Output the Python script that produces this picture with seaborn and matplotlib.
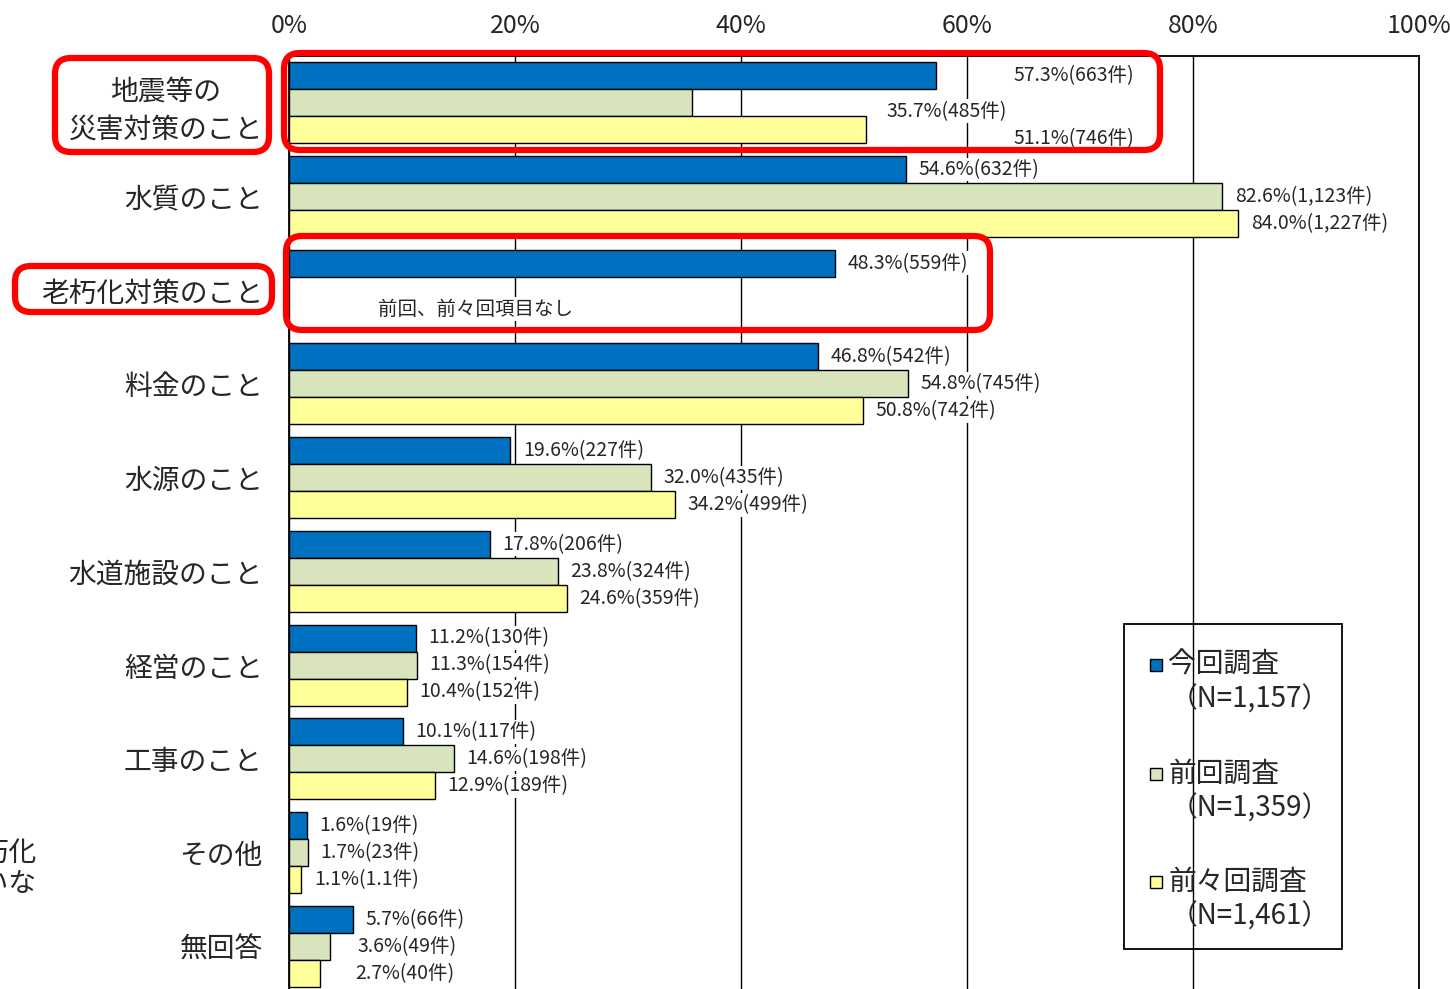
import numpy as np
import pandas as pd
import matplotlib.pyplot as plt
import seaborn as sns
from matplotlib.patches import FancyBboxPatch, Rectangle

# categories and survey results
categories = ['地震等の\n災害対策のこと', '水質のこと', '老朽化対策のこと', '料金のこと', '水源のこと',
              '水道施設のこと', '経営のこと', '工事のこと', 'その他', '無回答']
surveys = ['今回調査', '前回調査', '前々回調査']
survey_n = ['1,157', '1,359', '1,461']

current_pct = [57.3, 54.6, 48.3, 46.8, 19.6, 17.8, 11.2, 10.1, 1.6, 5.7]
current_cnt = [663, 632, 559, 542, 227, 206, 130, 117, 19, 66]
prev_pct = [35.7, 82.6, np.nan, 54.8, 32.0, 23.8, 11.3, 14.6, 1.7, 3.6]
prev_cnt = [485, 1123, None, 745, 435, 324, 154, 198, 23, 49]
prev2_pct = [51.1, 84.0, np.nan, 50.8, 34.2, 24.6, 10.4, 12.9, 1.1, 2.7]
prev2_cnt = [746, 1227, None, 742, 499, 359, 152, 189, 1.1, 40]

colors = ['#0070C0', '#D8E4BC', '#FFFF99']

sns.set_style('white')
plt.rcParams['font.family'] = ['Noto Sans CJK JP', 'DejaVu Sans']

df = pd.DataFrame({
    'cat': categories * 3,
    'survey': np.repeat(surveys, len(categories)),
    'pct': current_pct + prev_pct + prev2_pct,
}).dropna()

fig = plt.figure(figsize=(14.5, 9.89), dpi=100)
ax = fig.add_axes([289 / 1450, -4 / 989, 1130 / 1450, 937 / 989])

sns.barplot(data=df, y='cat', x='pct', hue='survey', order=categories, hue_order=surveys,
            palette=colors, saturation=1, orient='h', width=0.865, edgecolor='black',
            linewidth=1, errorbar=None, legend=False, ax=ax)

ax.set_xlim(0, 100)
ax.set_ylim(9.5, -0.5)
ax.set_xlabel('')
ax.set_ylabel('')
ax.xaxis.tick_top()
ax.set_xticks(range(0, 101, 20))
ax.set_xticklabels([f'{t}%' for t in range(0, 101, 20)], fontsize=18)
ax.tick_params(axis='x', length=0, pad=12)
ax.tick_params(axis='y', length=0, pad=19, labelsize=20)
for lab in ax.get_yticklabels():
    lab.set_multialignment('center')
    lab.set_linespacing(1.35)
ax.set_axisbelow(True)
ax.grid(axis='x', color='black', linewidth=1)
for s in ax.spines.values():
    s.set_color('black')
    s.set_linewidth(1.3)

# value labels
pcts = [current_pct, prev_pct, prev2_pct]
cnts = [current_cnt, prev_cnt, prev2_cnt]
label_x = {(0, 0): 64.1, (0, 1): 52.9, (0, 2): 64.1, (9, 1): 6.1, (9, 2): 5.9}
label_dy = {(0, 1): 0.09, (0, 2): 0.09}
for j, cont in enumerate(ax.containers):
    for p in cont:
        yc = p.get_y() + p.get_height() / 2
        i = int(round(yc))
        v = pcts[j][i]
        if np.isnan(v):
            continue
        x = label_x.get((i, j), p.get_width() + 1.1)
        ax.text(x, yc + label_dy.get((i, j), 0), f'{v:.1f}%({cnts[j][i]:,}件)',
                ha='left', va='center', fontsize=14,
                bbox=dict(facecolor='white', edgecolor='none', pad=1))

ax.text(7.9, 2.2, '前回、前々回項目なし', ha='left', va='center', fontsize=14,
        bbox=dict(facecolor='white', edgecolor='none', pad=1))

# red highlight boxes (pixel coords -> inches)
def px_box(x0, y0, x1, y1):
    return FancyBboxPatch((x0 / 100, (989 - y1) / 100), (x1 - x0) / 100, (y1 - y0) / 100,
                          boxstyle='round,pad=0,rounding_size=0.16', transform=fig.dpi_scale_trans,
                          fill=False, edgecolor='#FF0000', linewidth=4.5, zorder=10)

for b in [(55, 58, 269, 152), (284, 53, 1160, 150), (15, 266, 272, 312), (286, 236, 990, 330)]:
    fig.patches.append(px_box(*b))

# legend
fig.patches.append(Rectangle((1124 / 100, (989 - 949) / 100), 218 / 100, 325 / 100,
                             transform=fig.dpi_scale_trans, fill=False, edgecolor='black',
                             linewidth=1.3))
for k, (name, n) in enumerate(zip(surveys, survey_n)):
    yc = 665 + k * 108.5
    fig.patches.append(Rectangle((1150 / 100, (989 - yc - 6) / 100), 12 / 100, 12 / 100,
                                 transform=fig.dpi_scale_trans, facecolor=colors[k],
                                 edgecolor='black', linewidth=1))
    fig.text(1168 / 100, (989 - yc) / 100, name, transform=fig.dpi_scale_trans,
             ha='left', va='center', fontsize=20)
    fig.text(1170 / 100, (989 - yc - 35) / 100, f'（N={n}）', transform=fig.dpi_scale_trans,
             ha='left', va='center', fontsize=20)

# fragments of neighbouring text cut off at left edge (cropped as in the source)
fig.text(36 / 100, (989 - 853) / 100, '老朽化', transform=fig.dpi_scale_trans,
         ha='right', va='center', fontsize=20)
fig.text(36 / 100, (989 - 885) / 100, 'していな', transform=fig.dpi_scale_trans,
         ha='right', va='center', fontsize=20)

fig.savefig('out.png', dpi=100)
